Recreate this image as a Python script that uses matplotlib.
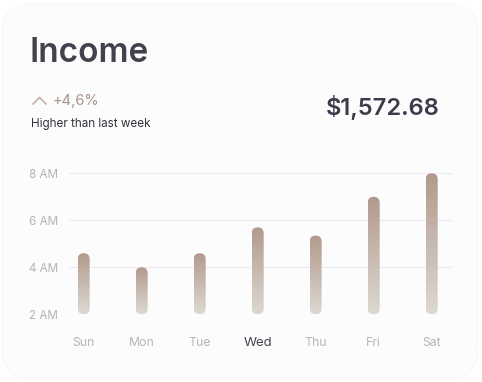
import numpy as np
import matplotlib
matplotlib.use('Agg')
import matplotlib.pyplot as plt
from matplotlib.patches import FancyBboxPatch
from matplotlib.lines import Line2D
from matplotlib.colors import LinearSegmentedColormap

days = ['Sun', 'Mon', 'Tue', 'Wed', 'Thu', 'Fri', 'Sat']
values = [4.6, 4.0, 4.6, 5.7, 5.35, 7.0, 8.0]
y_ticks = [2, 4, 6, 8]
y_labels = ['2 AM', '4 AM', '6 AM', '8 AM']
selected = 'Wed'

W, H = 482, 382
plt.rcParams['font.family'] = ['Inter', 'DejaVu Sans']

fig = plt.figure(figsize=(W / 100, H / 100), dpi=100)
fig.patch.set_facecolor('white')


def fx(px):
    return px / W


def fy(py):
    # py measured from top
    return 1 - py / H


# card background
card = FancyBboxPatch((fx(2), fy(378)), fx(476), 374 / H,
                      boxstyle='round,pad=0,rounding_size=0.06',
                      transform=fig.transFigure, facecolor='#fcfcfd',
                      edgecolor='#f7f7f9', lw=0.6, mutation_aspect=W / H,
                      zorder=-10)
fig.add_artist(card)

# header texts
fig.text(fx(30), fy(62), 'Income', fontsize=24, fontweight='semibold',
         color='#44414f', va='baseline')
fig.text(fx(440), fy(107), '$1,572.68', fontsize=17, fontweight='semibold',
         color='#3d3b4a', ha='right', va='center')
fig.add_artist(Line2D([fx(33), fx(39.5), fx(46)], [fy(104), fy(97.5), fy(104)],
                      transform=fig.transFigure, color='#c9b2a8', lw=1.3,
                      solid_capstyle='round', solid_joinstyle='round'))
fig.text(fx(53), fy(101), '+4,6%', fontsize=10.5, color='#a8948a', va='center')
fig.text(fx(31), fy(124), 'Higher than last week', fontsize=8.4,
         color='#34323a', va='center')

# chart area
left, right = 69.3, 452
top, bottom = 173.3, 314.3
ax = fig.add_axes([fx(left), fy(bottom), fx(right - left), (bottom - top) / H])
ax.set_facecolor('none')
x = np.arange(len(days))
ax.set_xlim(-0.248, 6.35)
ax.set_ylim(2, 8)
for s in ax.spines.values():
    s.set_visible(False)
ax.set_yticks(y_ticks)
ax.set_yticklabels(y_labels)
ax.grid(axis='y', color='#ebebef', lw=0.8)
ax.set_axisbelow(True)
ax.tick_params(axis='y', length=0, pad=8, labelsize=8.4, labelcolor='#b3b3b8')
ax.set_xticks(x)
ax.set_xticklabels(days)
ax.tick_params(axis='x', length=0, pad=16, labelsize=8.8, labelcolor='#b5b5ba')
for lbl in ax.get_xticklabels():
    if lbl.get_text() == selected:
        lbl.set_color('#47454f')
        lbl.set_fontsize(9.5)

cmap = LinearSegmentedColormap.from_list('bar', ['#dcd9d1', '#b2998d'])
grad = np.linspace(0, 1, 256).reshape(-1, 1)

# pixel size of one data unit in each direction
x_px = (right - left) / (6.35 + 0.248)
y_px = (bottom - top) / 6.0
bar_w = 12 / x_px
aspect = x_px / y_px
for xi, v in zip(x, values):
    patch = FancyBboxPatch((xi - bar_w / 2, 2), bar_w, v - 2,
                           boxstyle='round,pad=0,rounding_size=%f' % (bar_w / 2),
                           mutation_aspect=aspect, facecolor='none',
                           edgecolor='none', transform=ax.transData)
    ax.add_patch(patch)
    im = ax.imshow(grad, cmap=cmap, origin='lower', aspect='auto',
                   extent=[xi - bar_w / 2, xi + bar_w / 2, 2, v], zorder=3)
    im.set_clip_path(patch)
ax.set_xlim(-0.248, 6.35)
ax.set_ylim(2, 8)

fig.savefig('out.png', dpi=100)
